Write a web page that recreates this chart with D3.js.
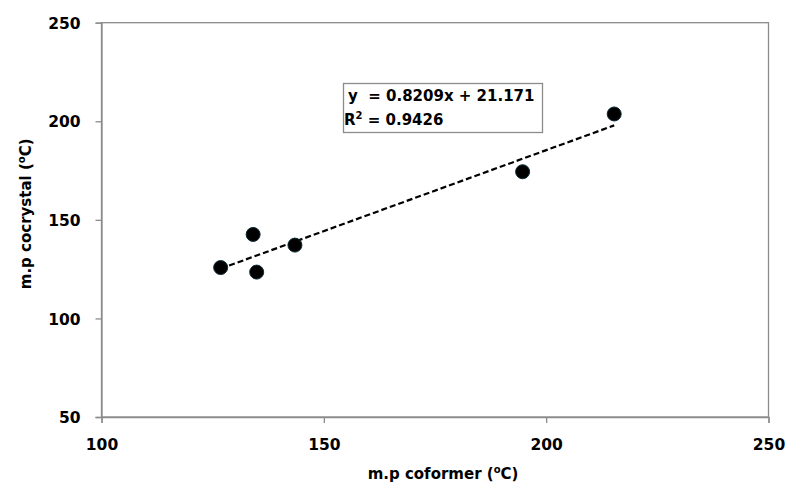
<!DOCTYPE html>
<html>
<head>
<meta charset="utf-8">
<script src="https://cdn.jsdelivr.net/npm/d3@7"></script>
<style>
  body { margin: 0; background: #fff; }
  svg text { font-family: "DejaVu Sans", sans-serif; font-weight: bold; fill: #000; }
</style>
</head>
<body>
<div id="chart"></div>
<script>
// melting points (oC): coformer vs cocrystal
var coformer  = [126.8, 134.1, 134.9, 143.5, 194.7, 215.3];
var cocrystal = [125.8, 142.6, 123.5, 137.2, 174.4, 203.7];
var xTicks = [100, 150, 200, 250];
var yTicks = [50, 100, 150, 200, 250];
var fitSlope = 0.8209, fitIntercept = 21.171, fitR2 = 0.9426;

var width = 787, height = 484;
var margin = {left: 101.5, right: 18.5, top: 22.7, bottom: 67};

var svg = d3.select("#chart").append("svg")
    .attr("width", width)
    .attr("height", height);

var x = d3.scaleLinear()
    .domain([100, 250])
    .range([margin.left, width - margin.right]);
var y = d3.scaleLinear()
    .domain([50, 250])
    .range([height - margin.bottom, margin.top]);

// frame
svg.append("rect")
    .attr("x", x(100)).attr("y", y(250))
    .attr("width", x(250) - x(100))
    .attr("height", y(50) - y(250))
    .attr("fill", "none")
    .attr("stroke", "#8c8c8c")
    .attr("stroke-width", 1.3);

var xAxis = svg.append("g")
    .attr("transform", "translate(0," + y(50) + ")")
    .call(d3.axisBottom(x).tickValues(xTicks).tickSize(6).tickPadding(16));
var yAxis = svg.append("g")
    .attr("transform", "translate(" + x(100) + ",0)")
    .call(d3.axisLeft(y).tickValues(yTicks).tickSize(6).tickPadding(15));

[xAxis, yAxis].forEach(function(g) {
    g.select(".domain").attr("stroke", "#8c8c8c").attr("stroke-width", 1.3);
    g.selectAll(".tick line").attr("stroke", "#8c8c8c").attr("stroke-width", 1.3);
    g.selectAll(".tick text").attr("font-size", "15.5px")
        .style("font-family", "'DejaVu Sans', sans-serif").style("font-weight", "bold")
        .attr("fill", "#000");
});
yAxis.selectAll(".tick text").attr("dy", "0.36em");

// trendline
var xMin = d3.min(coformer), xMax = d3.max(coformer);
svg.append("line")
    .attr("x1", x(xMin)).attr("y1", y(fitSlope * xMin + fitIntercept))
    .attr("x2", x(xMax)).attr("y2", y(fitSlope * xMax + fitIntercept))
    .attr("stroke", "#000")
    .attr("stroke-width", 2.2)
    .attr("stroke-dasharray", "6,3");

// points
svg.selectAll(".pt")
    .data(coformer)
    .enter()
        .append("circle").attr("class", "pt")
        .attr("cx", function(d) { return x(d); })
        .attr("cy", function(d, i) { return y(cocrystal[i]); })
        .attr("r", 7)
        .attr("fill", "#000")
        .attr("stroke", "#0b2a33")
        .attr("stroke-width", 1);

// equation box
svg.append("rect")
    .attr("x", 343.5).attr("y", 83.5)
    .attr("width", 199).attr("height", 49)
    .attr("fill", "#fff")
    .attr("stroke", "#8c8c8c")
    .attr("stroke-width", 1.3);
svg.append("text")
    .attr("x", 348).attr("y", 101)
    .attr("font-size", "15px")
    .attr("xml:space", "preserve")
    .text("y  = " + fitSlope + "x + " + fitIntercept);
var r2 = svg.append("text")
    .attr("x", 344).attr("y", 125)
    .attr("font-size", "15px");
r2.append("tspan").text("R");
r2.append("tspan").attr("font-size", "10px").attr("dy", -6).text("2");
r2.append("tspan").attr("dy", 6).text(" = " + fitR2);

// axis titles
var xt = svg.append("text")
    .attr("x", 443).attr("y", 479)
    .attr("text-anchor", "middle")
    .attr("font-size", "15px");
xt.append("tspan").text("m.p coformer (");
xt.append("tspan").attr("font-size", "10px").attr("dy", -6).text("o");
xt.append("tspan").attr("dy", 6).text("C)");

var yt = svg.append("text")
    .attr("transform", "translate(31," + ((y(50) + y(250)) / 2 - 6) + ") rotate(-90)")
    .attr("text-anchor", "middle")
    .attr("font-size", "15px");
yt.append("tspan").text("m.p cocrystal (");
yt.append("tspan").attr("font-size", "10px").attr("dy", -6).text("o");
yt.append("tspan").attr("dy", 6).text("C)");
</script>
</body>
</html>
